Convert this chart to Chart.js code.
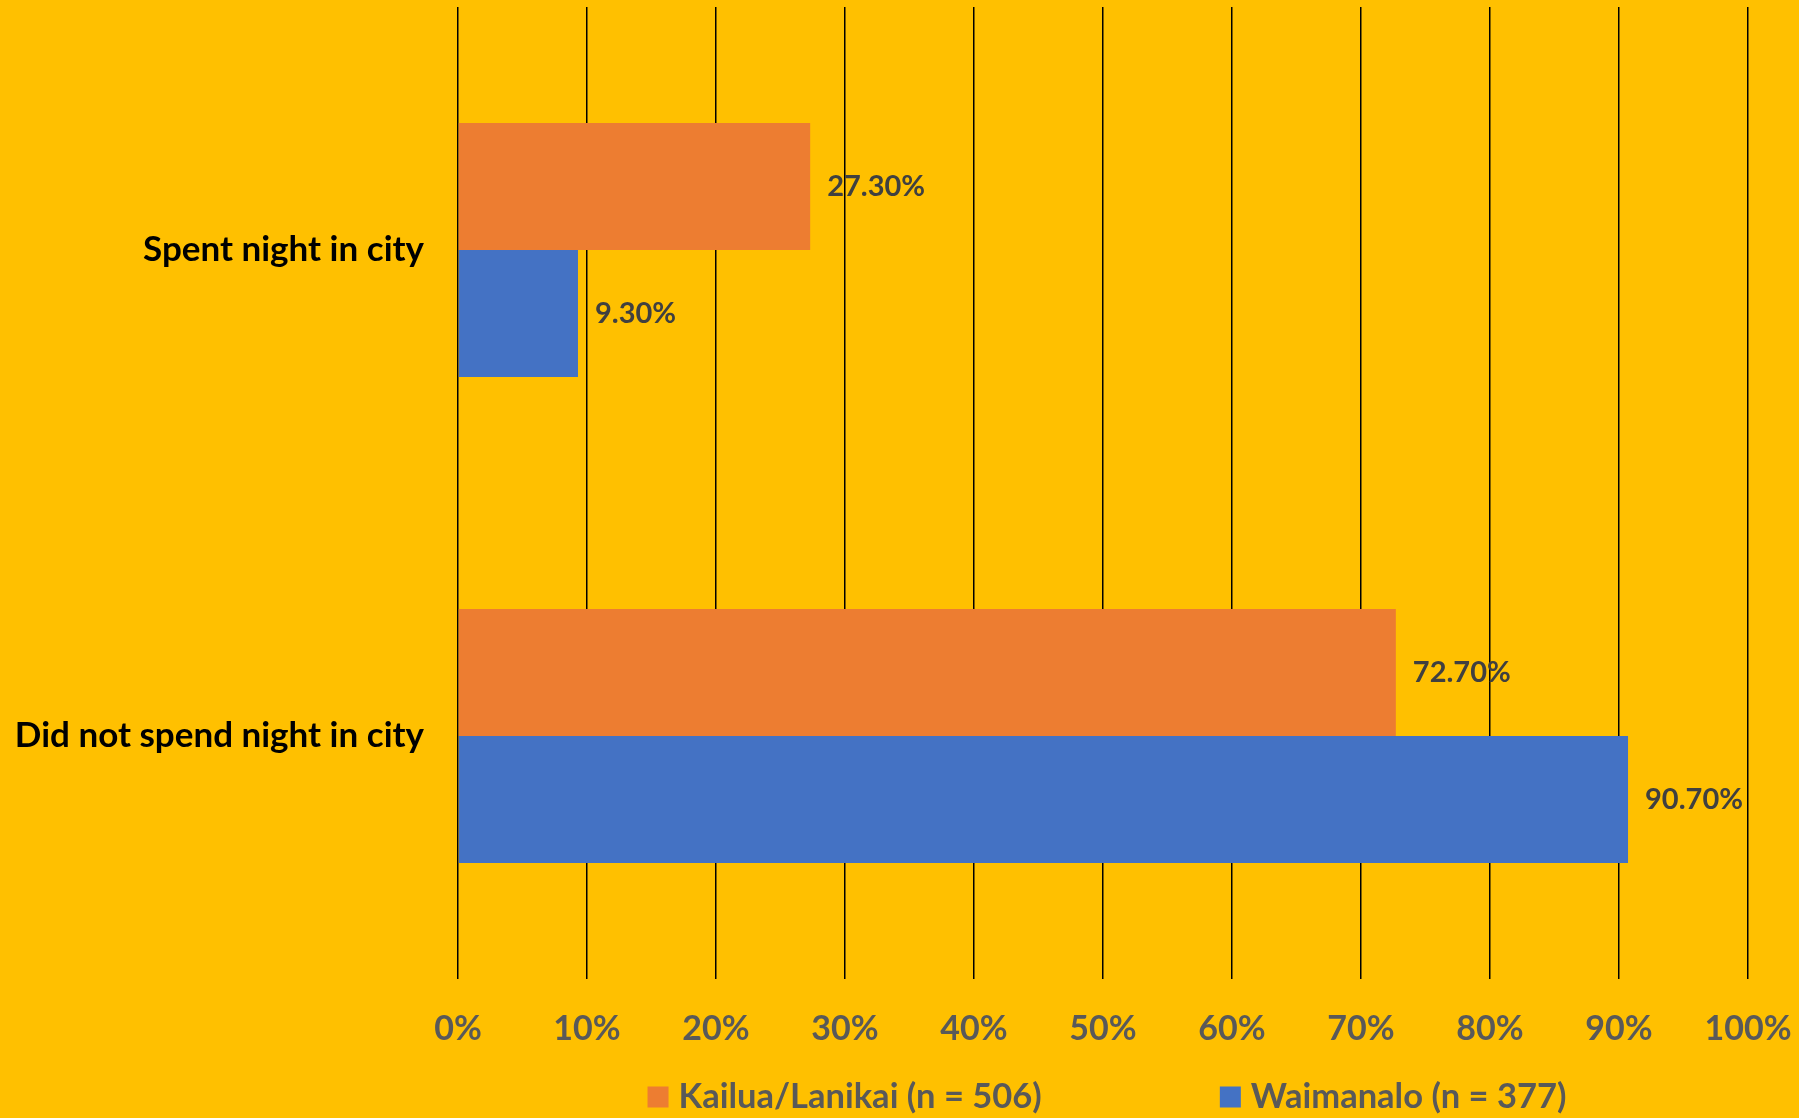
<!DOCTYPE html>
<html>
<head>
<meta charset="utf-8">
<script src="https://cdn.jsdelivr.net/npm/chart.js@4.4.1/dist/chart.umd.min.js"></script>
<style>
    html, body { margin: 0; padding: 0; background: #FFC000; }
    #wrap { width: 1799px; height: 1118px; }
</style>
</head>
<body>
<div id="wrap"><canvas id="chart" width="1799" height="1118"></canvas></div>
<script>
// Dados do gráfico
const categorias = ["Spent night in city", "Did not spend night in city"];
const kailua = [27.3, 72.7];
const waimanalo = [9.3, 90.7];
const nomesSeries = ["Kailua/Lanikai (n = 506)", "Waimanalo (n = 377)"];
const coresSeries = ["#ED7D31", "#4472C4"];
const ticksX = [0, 10, 20, 30, 40, 50, 60, 70, 80, 90, 100];

const fonte = "Lato, 'Open Sans', sans-serif";

// Rótulos de valor ao lado das barras
const rotulosPlugin = {
    id: "rotulos",
    afterDatasetsDraw(chart) {
        const ctx = chart.ctx;
        ctx.save();
        ctx.font = "bold 29px " + fonte;
        ctx.fillStyle = "#404040";
        ctx.textAlign = "left";
        ctx.textBaseline = "middle";
        chart.data.datasets.forEach((ds, i) => {
            chart.getDatasetMeta(i).data.forEach((bar, j) => {
                ctx.fillText(ds.data[j].toFixed(2) + "%", bar.x + 17, bar.y);
            });
        });
        ctx.restore();
    }
};

// Legenda desenhada à mão (espaçamento largo como no original)
const legendaPlugin = {
    id: "legenda",
    afterDraw(chart) {
        const ctx = chart.ctx;
        const area = chart.chartArea;
        const box = 21, gap = 10, espaco = 178;
        ctx.save();
        ctx.font = "bold 34.5px " + fonte;
        ctx.textBaseline = "middle";
        const larguras = nomesSeries.map(t => ctx.measureText(t).width);
        let total = 0;
        larguras.forEach((w, i) => { total += box + gap + w + (i > 0 ? espaco : 0); });
        let x = (area.left + area.right) / 2 - total / 2 + 4;
        const y = 1097;
        nomesSeries.forEach((t, i) => {
            ctx.fillStyle = coresSeries[i];
            ctx.fillRect(x, y - box / 2, box, box);
            ctx.fillStyle = "#595959";
            ctx.fillText(t, x + box + gap, y);
            x += box + gap + larguras[i] + espaco;
        });
        ctx.restore();
    }
};

const fundoPlugin = {
    id: "fundo",
    beforeDraw(chart) {
        const ctx = chart.ctx;
        ctx.save();
        ctx.fillStyle = "#FFC000";
        ctx.fillRect(0, 0, chart.width, chart.height);
        ctx.restore();
    }
};

const ctx = document.getElementById("chart").getContext("2d");
new Chart(ctx, {
    type: "bar",
    data: {
        labels: categorias,
        datasets: [
            { label: nomesSeries[0], data: kailua, backgroundColor: coresSeries[0] },
            { label: nomesSeries[1], data: waimanalo, backgroundColor: coresSeries[1] }
        ]
    },
    options: {
        indexAxis: "y",
        responsive: false,
        animation: false,
        layout: { padding: { top: 7, right: 51, left: 0, bottom: 0 } },
        datasets: { bar: { barPercentage: 1, categoryPercentage: 0.523 } },
        plugins: {
            legend: { display: false },
            tooltip: { enabled: false }
        },
        scales: {
            x: {
                min: 0,
                max: 100,
                afterBuildTicks(scale) { scale.ticks = ticksX.map(v => ({ value: v })); },
                afterFit(scale) {
                    scale.height = 139;
                    scale.paddingLeft = 0;
                    scale.paddingRight = 0;
                },
                grid: { color: "#000000", lineWidth: 1.5, drawTicks: false },
                border: { display: false },
                ticks: {
                    padding: 30,
                    color: "#595959",
                    font: { family: fonte, size: 34, weight: "bold" },
                    callback: v => v + "%"
                }
            },
            y: {
                afterFit(scale) {
                    scale.width = 458;
                    scale.paddingTop = 0;
                    scale.paddingBottom = 0;
                },
                grid: { display: false },
                border: { display: false },
                ticks: {
                    padding: 26,
                    color: "#000000",
                    font: { family: fonte, size: 35, weight: "bold" }
                }
            }
        }
    },
    plugins: [fundoPlugin, rotulosPlugin, legendaPlugin]
});
</script>
</body>
</html>
